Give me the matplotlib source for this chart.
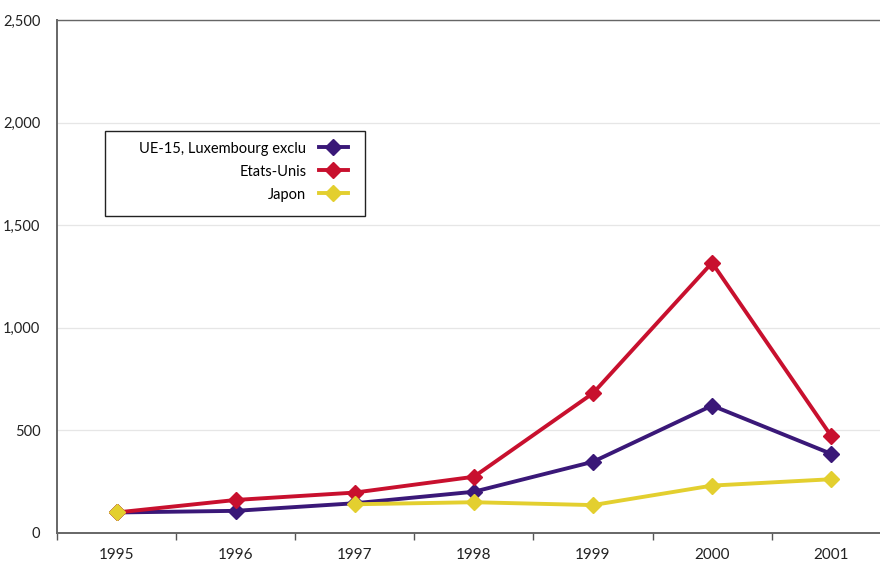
import numpy as np
import matplotlib.pyplot as plt
from matplotlib.patches import Rectangle
from matplotlib.ticker import FuncFormatter

# ------------------------------------------------------
# Data
years = ['1995', '1996', '1997', '1998', '1999', '2000', '2001']
ue15 = [100, 108, 145, 201, 347, 621, 386]
etats_unis = [100, 161, 197, 274, 681, 1317, 473]
japon = [100, np.nan, 140, 150, 136, 231, 262]
labels = ['UE-15, Luxembourg exclu', 'Etats-Unis', 'Japon']
colors = ['#3a1878', '#c8102e', '#e3cf2f']
# ------------------------------------------------------

plt.rcParams['font.family'] = ['Lato', 'DejaVu Sans']

W, H = 880, 563
fig = plt.figure(figsize=(W / 100, H / 100), dpi=100)
ax = fig.add_axes([57 / W, 1 - 533 / H, 1 - 57 / W, (533 - 20) / H])

x = np.arange(len(years))
series = [ue15, etats_unis, japon]
for vals, lab, col in zip(series, labels, colors):
    ax.plot(x, vals, color=col, lw=2.8, marker='D', ms=8.5, label=lab,
            solid_joinstyle='round')

ax.set_yticks(np.arange(0, 2501, 500))
ax.yaxis.set_major_formatter(FuncFormatter(lambda v, p: f'{int(v):,}'))
ax.tick_params(axis='y', length=0, pad=12, labelsize=10.5, colors='#222222')
ax.grid(axis='y', color='#e6e6e6', lw=0.9)
ax.set_axisbelow(True)

# category ticks between years, labels at the centres
ax.set_xticks(np.arange(-0.5, len(years), 1.0))
ax.set_xticklabels([])
ax.tick_params(axis='x', which='major', length=5, width=1, color='#555555', direction='out')
ax.set_xticks(x, minor=True)
ax.set_xticklabels(years, minor=True)
ax.tick_params(axis='x', which='minor', length=0, pad=11, labelsize=11, colors='#222222')

# limits after the ticks, so the ticks do not widen them
ax.set_ylim(0, 2500)
ax.set_xlim(-0.5, -0.5 + 823 / 119.1)

for s in ['left', 'bottom', 'top']:
    ax.spines[s].set_color('#666666')
    ax.spines[s].set_linewidth(1.4)
ax.spines['top'].set_linewidth(1.0)
ax.spines['right'].set_visible(False)

# legend: frame drawn as a rectangle, entries right-aligned inside it
def px(xp, yp):
    return (xp - 57) / 823, (533 - yp) / 513

bx0, by0 = px(105, 216)
bx1, by1 = px(365, 131)
ax.add_patch(Rectangle((bx0, by0), bx1 - bx0, by1 - by0, transform=ax.transAxes,
                       facecolor='white', edgecolor='#222222', lw=1.0, zorder=4))
leg = ax.legend(loc='upper right', bbox_to_anchor=px(348, 141.5),
                markerfirst=False, fontsize=10.5, frameon=False,
                borderpad=0, labelspacing=0.62, handlelength=2.0,
                handletextpad=0.85, borderaxespad=0)
leg.set_zorder(5)
for t in leg.get_texts():
    t.set_ha('right')
leg._legend_box.align = 'right'

plt.savefig('out.png', dpi=100)
